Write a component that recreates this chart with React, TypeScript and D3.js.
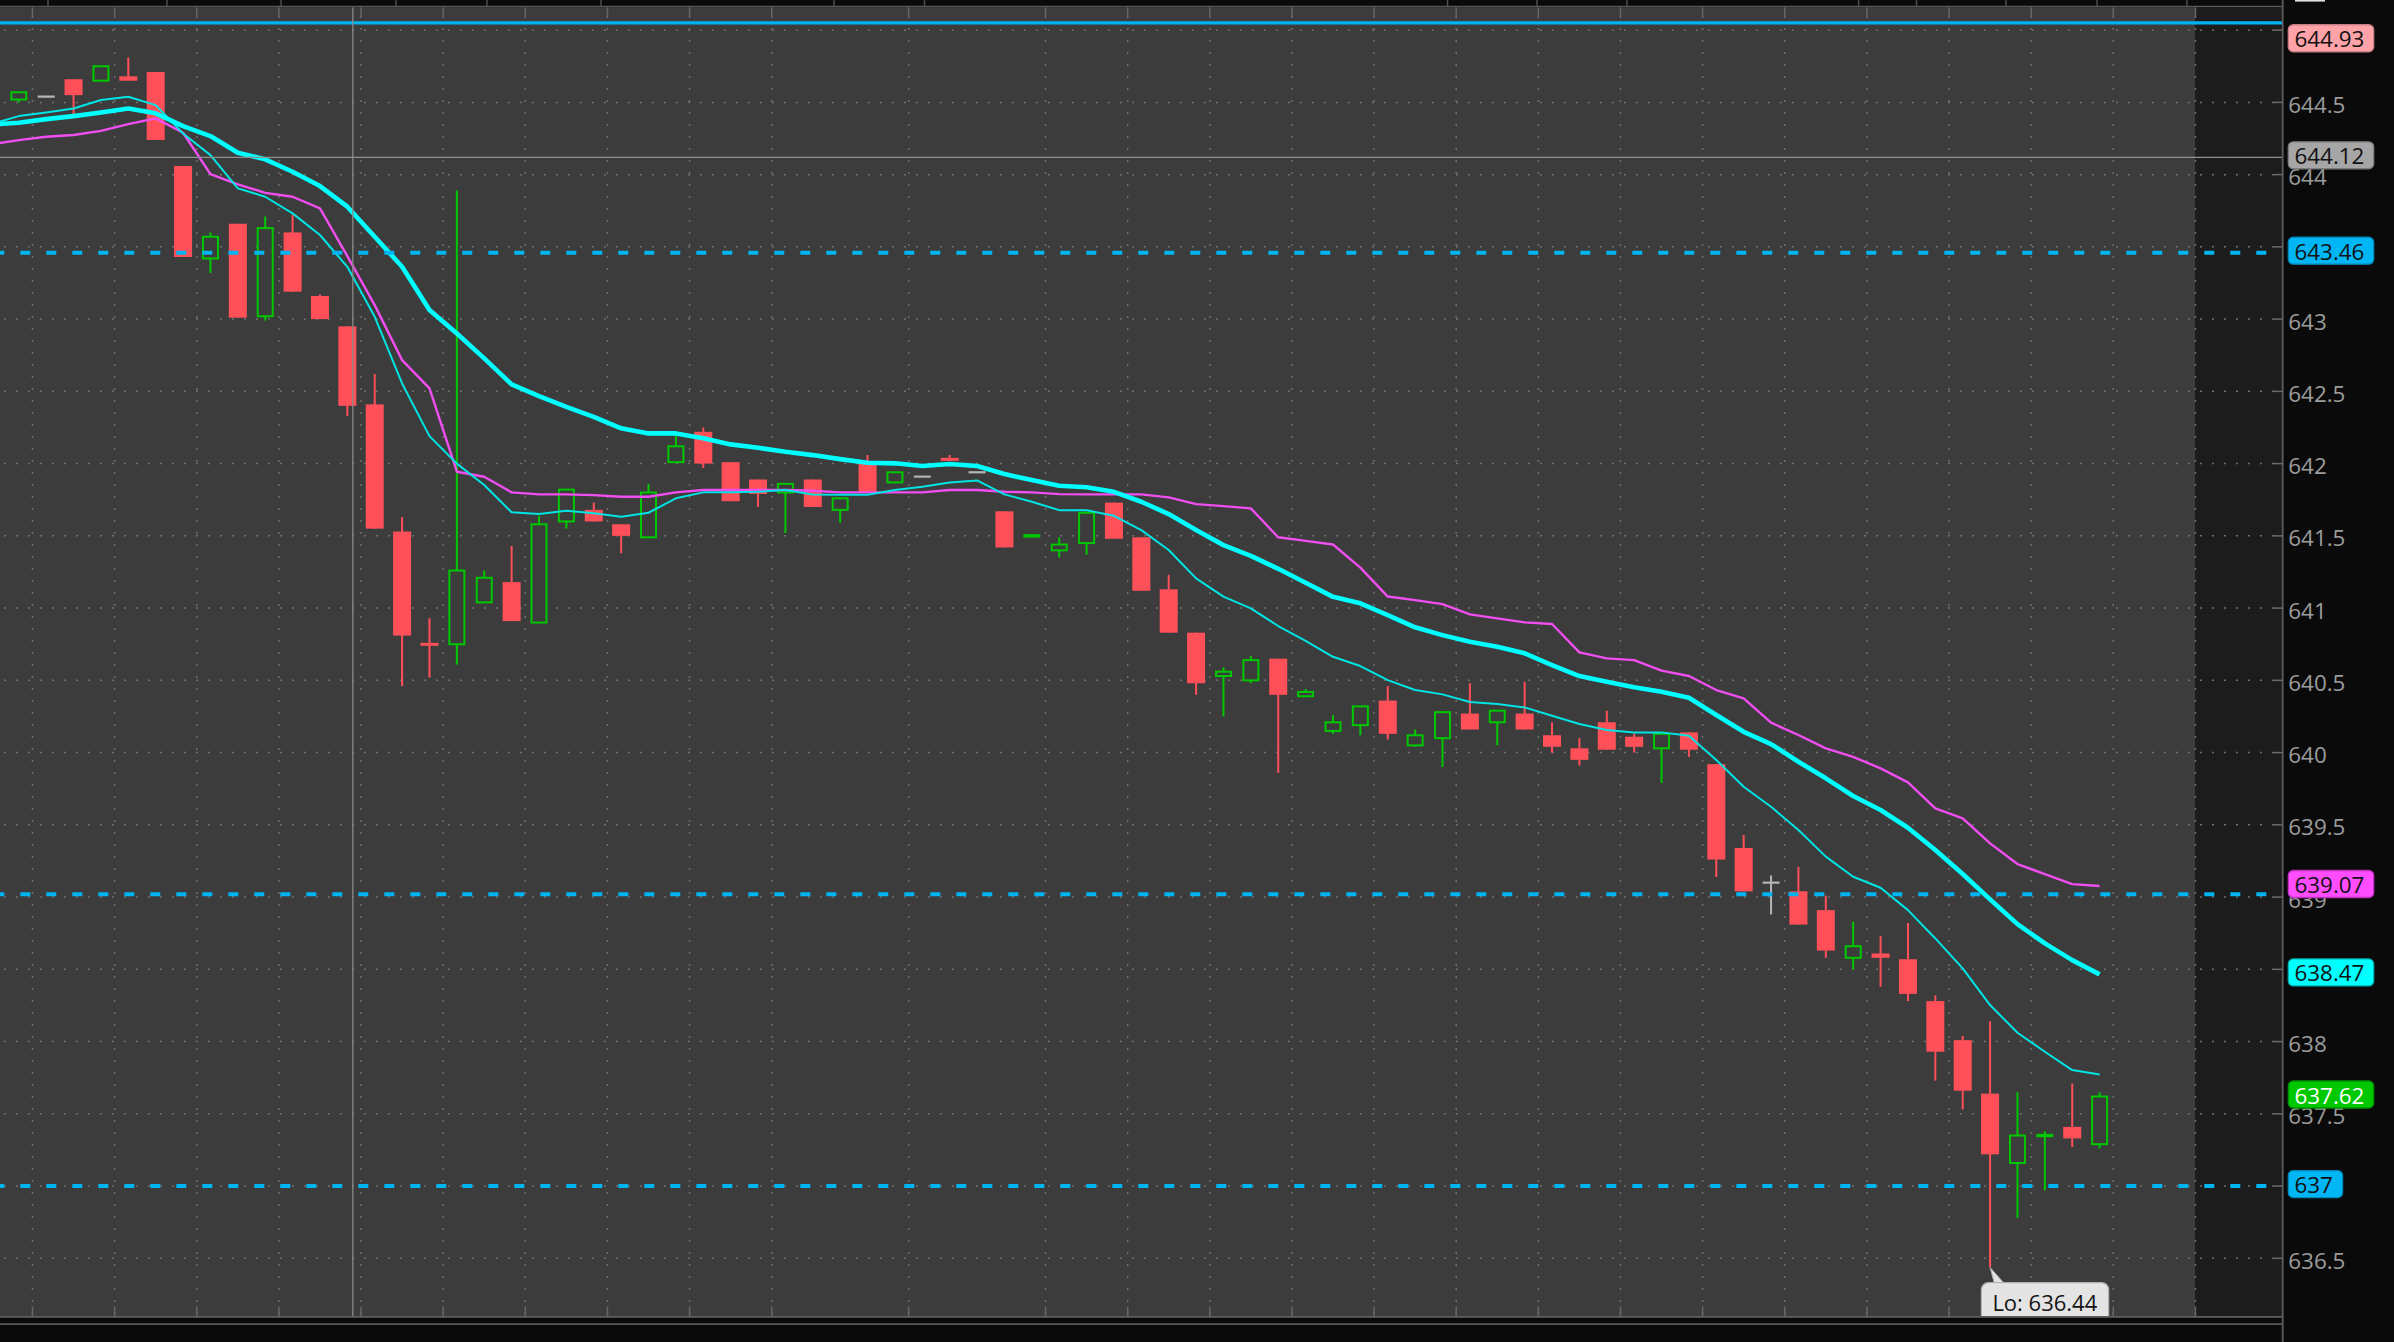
import React from 'react';
import * as d3 from 'd3';

// ---------------- DATA ----------------
const opens = [
  644.52, 644.54, 644.66, 644.65, 644.68, 644.71, 644.06, 643.42, 643.66, 643.02,
  643.60, 643.16, 642.95, 642.41, 641.53, 640.76, 640.75, 641.04, 641.18, 640.90,
  641.60, 641.68, 641.58, 641.49, 642.01, 642.22, 642.01, 641.89, 641.80, 641.89,
  641.68, 642.01, 641.87, 641.91, 642.04, 641.94, 641.67, 641.49, 641.40, 641.45,
  641.73, 641.49, 641.13, 640.83, 640.53, 640.50, 640.65, 640.39, 640.15, 640.19,
  640.36, 640.05, 640.10, 640.27, 640.21, 640.27, 640.12, 640.03, 640.21, 640.11,
  640.03, 640.14, 639.92, 639.34, 639.10, 639.04, 638.91, 638.58, 638.61, 638.57,
  638.28, 638.01, 637.64, 637.16, 637.34, 637.41, 637.29,
];
const highs = [
  644.57, 644.54, 644.66, 644.75, 644.81, 644.71, 644.06, 643.60, 643.66, 643.71,
  643.72, 643.17, 642.95, 642.62, 641.63, 640.93, 643.89, 641.26, 641.43, 641.64,
  641.82, 641.73, 641.58, 641.86, 642.21, 642.25, 642.01, 641.89, 641.86, 641.89,
  641.76, 642.06, 641.94, 641.91, 642.06, 641.94, 641.67, 641.51, 641.49, 641.66,
  641.73, 641.49, 641.23, 640.83, 640.59, 640.67, 640.65, 640.44, 640.26, 640.32,
  640.46, 640.16, 640.28, 640.48, 640.29, 640.49, 640.21, 640.10, 640.29, 640.13,
  640.13, 640.14, 639.92, 639.43, 639.15, 639.21, 639.01, 638.83, 638.73, 638.82,
  638.32, 638.04, 638.14, 637.65, 637.38, 637.71, 637.65,
];
const lows = [
  644.50, 644.54, 644.42, 644.65, 644.65, 644.24, 643.43, 643.32, 643.01, 642.99,
  643.19, 643.00, 642.33, 641.55, 640.46, 640.52, 640.61, 641.04, 640.91, 640.90,
  641.55, 641.60, 641.38, 641.49, 642.01, 641.97, 641.74, 641.70, 641.52, 641.70,
  641.59, 641.80, 641.87, 641.91, 642.02, 641.94, 641.42, 641.49, 641.35, 641.37,
  641.48, 641.12, 640.83, 640.40, 640.25, 640.48, 639.86, 640.39, 640.13, 640.12,
  640.09, 640.04, 639.90, 640.16, 640.05, 640.16, 640.00, 639.91, 640.02, 640.00,
  639.79, 639.97, 639.14, 639.04, 638.88, 638.81, 638.58, 638.50, 638.38, 638.28,
  637.73, 637.53, 636.44, 636.78, 636.97, 637.27, 637.26,
];
const closes = [
  644.57, 644.54, 644.55, 644.75, 644.65, 644.24, 643.43, 643.57, 643.01, 643.63,
  643.19, 643.00, 642.40, 641.55, 640.81, 640.74, 641.26, 641.21, 640.91, 641.58,
  641.82, 641.60, 641.50, 641.80, 642.12, 642.00, 641.74, 641.79, 641.86, 641.70,
  641.76, 641.80, 641.94, 641.91, 642.02, 641.94, 641.42, 641.51, 641.44, 641.66,
  641.48, 641.12, 640.83, 640.48, 640.56, 640.64, 640.40, 640.42, 640.21, 640.32,
  640.13, 640.12, 640.28, 640.16, 640.29, 640.16, 640.04, 639.95, 640.02, 640.04,
  640.13, 640.02, 639.26, 639.04, 639.10, 638.81, 638.63, 638.66, 638.58, 638.33,
  637.93, 637.66, 637.22, 637.35, 637.36, 637.33, 637.62,
];

// moving averages, first value belongs to the bar just left of the visible window (index -1)
const fastMA = [
  644.35,
  644.405, 644.43, 644.458, 644.516, 644.539, 644.481, 644.285, 644.135, 643.905, 643.847,
  643.732, 643.582, 643.362, 643.016, 642.555, 642.19, 642.0, 641.852, 641.663, 641.651,
  641.674, 641.656, 641.632, 641.66, 641.76, 641.801, 641.801, 641.805, 641.817, 641.787,
  641.784, 641.784, 641.817, 641.84, 641.87, 641.884, 641.787, 641.736, 641.678, 641.678,
  641.639, 641.54, 641.402, 641.206, 641.079, 640.998, 640.876, 640.774, 640.663, 640.599,
  640.502, 640.433, 640.403, 640.35, 640.336, 640.313, 640.255, 640.198, 640.156, 640.14,
  640.14, 640.117, 639.949, 639.764, 639.625, 639.464, 639.28, 639.141, 639.065, 638.91,
  638.714, 638.507, 638.253, 638.061, 637.93, 637.803, 637.773,
];
const slowMA = [
  644.346,
  644.359, 644.384, 644.405, 644.43, 644.458, 644.424, 644.336, 644.267, 644.151, 644.106,
  644.02, 643.921, 643.778, 643.57, 643.362, 643.063, 642.901, 642.728, 642.548, 642.467,
  642.393, 642.324, 642.244, 642.209, 642.209, 642.175, 642.133, 642.11, 642.082, 642.059,
  642.031, 642.006, 642.002, 641.983, 641.997, 641.983, 641.928, 641.886, 641.847, 641.836,
  641.805, 641.736, 641.651, 641.54, 641.436, 641.362, 641.272, 641.175, 641.078, 641.033,
  640.952, 640.867, 640.813, 640.767, 640.733, 640.687, 640.606, 640.53, 640.49, 640.452,
  640.421, 640.38, 640.26, 640.144, 640.059, 639.937, 639.822, 639.7, 639.603, 639.48,
  639.326, 639.16, 638.984, 638.813, 638.68, 638.564, 638.465,
];
const magentaMA = [
  644.21,
  644.239, 644.262, 644.274, 644.303, 644.35, 644.389, 644.29, 644.004, 643.933, 643.874,
  643.847, 643.766, 643.436, 643.097, 642.716, 642.521, 641.944, 641.909, 641.801, 641.787,
  641.787, 641.782, 641.771, 641.771, 641.801, 641.817, 641.817, 641.817, 641.817, 641.812,
  641.801, 641.801, 641.801, 641.801, 641.817, 641.817, 641.805, 641.801, 641.789, 641.787,
  641.787, 641.787, 641.766, 641.72, 641.706, 641.69, 641.49, 641.465, 641.44, 641.28,
  641.08, 641.055, 641.028, 640.957, 640.929, 640.901, 640.89, 640.694, 640.652, 640.64,
  640.567, 640.53, 640.433, 640.375, 640.207, 640.122, 640.029, 639.971, 639.891, 639.794,
  639.614, 639.545, 639.372, 639.229, 639.159, 639.09, 639.077,
];

const priceTicks = [636.5, 637, 637.5, 638, 638.5, 639, 639.5, 640, 640.5, 641, 641.5, 642, 642.5, 643, 643.5, 644, 644.5, 645];
const timeGridIdx = [0.5, 3.5, 6.5, 9.5, 12.5, 15.5, 18.5, 21.5, 24.5, 27.5, 32.5, 37.5, 40.5, 43.5, 46.5, 49.5, 52.5, 55.5, 58.5, 61.5, 64.5, 67.5, 70.5, 73.5, 76.5, 79.5];
const dashedLevels = [643.46, 639.02, 637];
const solidLevel = 645.05;
const crosshairIdx = 12.2;
const crosshairPrice = 644.12;
const dayHigh = 644.93;
const lowIdx = 72;
const lastIdx = 76;

// ---------------- LAYOUT / STYLE ----------------
const W = 2394;
const H = 1342;
const PLOT_T = 7.3;
const PLOT_B = 1316;
const AXIS_X = 2283;
const BG = '#3c3c3c';
const EXP_BG = '#1c1c1c';
const RED = '#ff5059';
const GREEN = '#00c800';
const GRAY = '#b4b4b4';
const LEVEL = '#00b4f2';
const GRID = '#6f6f6f';
const FONT = "'Open Sans', 'Noto Sans', sans-serif";
const topBarSeps = [48, 167, 281, 396, 487, 601, 834, 924.5, 1447.5, 1537, 1627, 1858.6, 1916.5, 2006, 2097, 2187];

const fmt = (v: number) => {
  const s = v.toFixed(2);
  return s.replace(/\.?0+$/, '');
};
const textW = (s: string) => {
  let w = 0;
  for (const ch of s) w += ch === '.' ? 5.9 : ch === ' ' ? 5.7 : ch === ':' ? 5.9 : ch === 'L' ? 11.5 : ch === 'o' ? 13.3 : 12.6;
  return w;
};

export default function App() {
  const x = d3.scaleLinear().domain([0, 76]).range([18.8, 2099.6]);
  const y = d3.scaleLinear().domain([636.101, 645.158]).range([PLOT_B, PLOT_T]);
  const expX = x(79.5);

  const maLine = d3
    .line<number>()
    .x((_, i) => x(i - 1))
    .y((d) => y(d));

  const candles = opens.map((o, i) => ({ i, o, h: highs[i], l: lows[i], c: closes[i] }));

  const boxes = [
    { v: dayHigh, text: fmt(dayHigh), bg: '#ffa3a9', border: '#c77e85', fg: '#111' },
    { v: crosshairPrice, text: fmt(crosshairPrice), bg: '#a6a6a6', border: '#7c7c7c', fg: '#111' },
    { v: dashedLevels[0], text: fmt(dashedLevels[0]), bg: '#00b6f5', border: '#0088bb', fg: '#111' },
    { v: magentaMA[magentaMA.length - 1], text: fmt(639.07), bg: '#ff4dff', border: '#c030c0', fg: '#111' },
    { v: slowMA[slowMA.length - 1], text: fmt(638.47), bg: '#00ffff', border: '#00b0b0', fg: '#111' },
    { v: closes[lastIdx], text: fmt(closes[lastIdx]), bg: '#00c800', border: '#008f00', fg: '#fff' },
    { v: dashedLevels[2], text: fmt(dashedLevels[2]), bg: '#00b6f5', border: '#0088bb', fg: '#111' },
  ];

  // tick labels that a price bubble fully covers are not drawn (as in the platform)
  const visibleTicks = priceTicks.filter((t) => !boxes.some((b) => Math.abs(y(b.v) - 2 - y(t)) < 10));

  const lowX = x(lowIdx);
  const lowY = y(lows[lowIdx]);
  const loText = `Lo: ${fmt(lows[lowIdx])}`;
  const bubbleX = lowX - 8.7;
  const bubbleW = textW(loText) + 22;

  return (
    <div style={{ position: 'absolute', left: 0, top: 0, width: W, height: H, overflow: 'hidden', background: '#0a0a0a' }}>
      <svg width={W} height={H} style={{ display: 'block' }} fontFamily={FONT}>
        <defs>
          <clipPath id="plotClip">
            <rect x={0} y={PLOT_T} width={AXIS_X} height={PLOT_B - PLOT_T} />
          </clipPath>
        </defs>
        <rect x={0} y={0} width={W} height={H} fill="#0a0a0a" />
        {/* top bar */}
        {topBarSeps.map((sx, k) => (
          <line key={'ts' + k} x1={sx} x2={sx} y1={0} y2={6} stroke="#4c4c4c" strokeWidth={1.5} />
        ))}
        <rect x={2295} y={0} width={30} height={1.6} fill="#e0e0e0" />
        <rect x={0} y={5.8} width={AXIS_X} height={1.5} fill="#5a5a5a" />

        {/* plot backgrounds */}
        <rect x={0} y={PLOT_T} width={expX} height={PLOT_B - PLOT_T} fill={BG} />
        <rect x={expX} y={PLOT_T} width={AXIS_X - expX} height={PLOT_B - PLOT_T} fill={EXP_BG} />

        <g clipPath="url(#plotClip)">
          {/* horizontal grid */}
          {priceTicks.map((t) => (
            <line key={'hg' + t} x1={0} x2={AXIS_X - 9} y1={y(t)} y2={y(t)} stroke={GRID} strokeWidth={1.5} strokeDasharray="2 10" strokeDashoffset={8} />
          ))}
          {/* vertical grid */}
          {timeGridIdx.map((g) => (
            <g key={'vg' + g}>
              <line x1={x(g)} x2={x(g)} y1={PLOT_T} y2={PLOT_B} stroke={GRID} strokeWidth={1.5} strokeDasharray="2 10" strokeDashoffset={8 + PLOT_T} />
              <line x1={x(g)} x2={x(g)} y1={PLOT_T} y2={PLOT_T + 9.5} stroke="#666" strokeWidth={1.5} />
              <line x1={x(g)} x2={x(g)} y1={PLOT_B - 9.5} y2={PLOT_B} stroke="#666" strokeWidth={1.5} />
            </g>
          ))}

          {/* candles */}
          {candles.map((d) => {
            const cx = x(d.i);
            const yO = y(d.o);
            const yC = y(d.c);
            const yH = y(d.h);
            const yL = y(d.l);
            if (d.c > d.o) {
              const top = yC;
              const bot = yO;
              const hgt = bot - top;
              if (hgt < 3.5) {
                const mid = (top + bot) / 2;
                return (
                  <g key={'c' + d.i}>
                    {yL - yH > 0.5 && <line x1={cx} x2={cx} y1={yH} y2={yL} stroke={GREEN} strokeWidth={2} />}
                    <rect x={cx - 8.5} y={mid - 1.7} width={17} height={3.4} fill={GREEN} />
                  </g>
                );
              }
              return (
                <g key={'c' + d.i}>
                  {top - yH > 0.5 && <line x1={cx} x2={cx} y1={yH} y2={top} stroke={GREEN} strokeWidth={2} />}
                  {yL - bot > 0.5 && <line x1={cx} x2={cx} y1={bot} y2={yL} stroke={GREEN} strokeWidth={2} />}
                  <rect x={cx - 7.5} y={top} width={15} height={hgt} fill={BG} stroke={GREEN} strokeWidth={2} />
                </g>
              );
            }
            if (d.c < d.o) {
              const hgt = Math.max(yC - yO, 3);
              return (
                <g key={'c' + d.i}>
                  {yL - yH > 0.5 && <line x1={cx} x2={cx} y1={yH} y2={yL} stroke={RED} strokeWidth={2} />}
                  <rect x={cx - 9} y={yO} width={18} height={hgt} fill={RED} />
                </g>
              );
            }
            return (
              <g key={'c' + d.i}>
                {yL - yH > 0.5 && <line x1={cx} x2={cx} y1={yH} y2={yL} stroke={GRAY} strokeWidth={2} />}
                <line x1={cx - 8.5} x2={cx + 8.5} y1={yC} y2={yC} stroke={GRAY} strokeWidth={2.2} />
              </g>
            );
          })}

          {/* moving averages */}
          <path d={maLine(magentaMA) || ''} fill="none" stroke="#f04ef0" strokeWidth={2.4} strokeLinejoin="round" />
          <path d={maLine(fastMA) || ''} fill="none" stroke="#00e4e4" strokeWidth={2} strokeLinejoin="round" />
          <path d={maLine(slowMA) || ''} fill="none" stroke="#00ffff" strokeWidth={4.6} strokeLinejoin="round" />

          {/* level lines */}
          <line x1={0} x2={AXIS_X} y1={y(solidLevel)} y2={y(solidLevel)} stroke={LEVEL} strokeWidth={3.4} />
          {dashedLevels.map((lv) => (
            <line key={'dl' + lv} x1={0} x2={AXIS_X} y1={y(lv)} y2={y(lv)} stroke={LEVEL} strokeWidth={4} strokeDasharray="10 16" strokeDashoffset={5.7} />
          ))}

          {/* crosshair */}
          <line x1={x(crosshairIdx)} x2={x(crosshairIdx)} y1={PLOT_T} y2={PLOT_B} stroke="#8a8a8a" strokeWidth={1.3} />
          <line x1={0} x2={AXIS_X} y1={y(crosshairPrice)} y2={y(crosshairPrice)} stroke="#8f8f8f" strokeWidth={1.3} />

          {/* Lo bubble */}
          <g>
            <path
              d={`M${lowX},${lowY + 0.5} L${bubbleX + 13},${1283.5} L${bubbleX + 23},${1283.5} Z`}
              fill="#e4e4e4"
              stroke="#a8a8a8"
              strokeWidth={1}
            />
            <rect x={bubbleX} y={1282.7} width={bubbleW} height={44} rx={7} fill="#e4e4e4" stroke="#b0b0b0" strokeWidth={1.2} />
            <rect x={bubbleX + 11} y={1283.5} width={14} height={4} fill="#e4e4e4" />
            <text x={bubbleX + 11} y={1301.5} fontSize={22} fill="#141414" dominantBaseline="central">
              {loText}
            </text>
          </g>
        </g>

        {/* bottom border lines */}
        <rect x={0} y={PLOT_B} width={AXIS_X} height={1.8} fill="#5e5e5e" />
        <rect x={0} y={1318} width={AXIS_X} height={5} fill="#0a0a0a" />
        <rect x={0} y={1323.2} width={AXIS_X} height={1.8} fill="#565656" />

        {/* axis line */}
        <rect x={AXIS_X - 1.2} y={0} width={1.8} height={H} fill="#5c5c5c" />

        {/* right axis ticks and labels */}
        {priceTicks.map((t) => (
          <line key={'ytm' + t} x1={AXIS_X - 9} x2={AXIS_X} y1={y(t)} y2={y(t)} stroke="#6a6a6a" strokeWidth={1.5} />
        ))}
        {visibleTicks.map((t) => (
          <text key={'yt' + t} x={2288.3} y={y(t) + 2} fontSize={22.4} fill="#9c9c9c" dominantBaseline="central">
            {fmt(t)}
          </text>
        ))}

        {/* price bubbles */}
        {boxes.map((b, k) => {
          const cy = y(b.v) - 2;
          const w = textW(b.text) + 16.5;
          return (
            <g key={'bx' + k}>
              <rect x={2288.3} y={cy - 13.5} width={w} height={27} rx={5} fill={b.bg} stroke={b.border} strokeWidth={1.3} />
              <text x={2294.5} y={cy + 0.5} fontSize={22.4} fill={b.fg} dominantBaseline="central">
                {b.text}
              </text>
            </g>
          );
        })}
      </svg>
    </div>
  );
}
